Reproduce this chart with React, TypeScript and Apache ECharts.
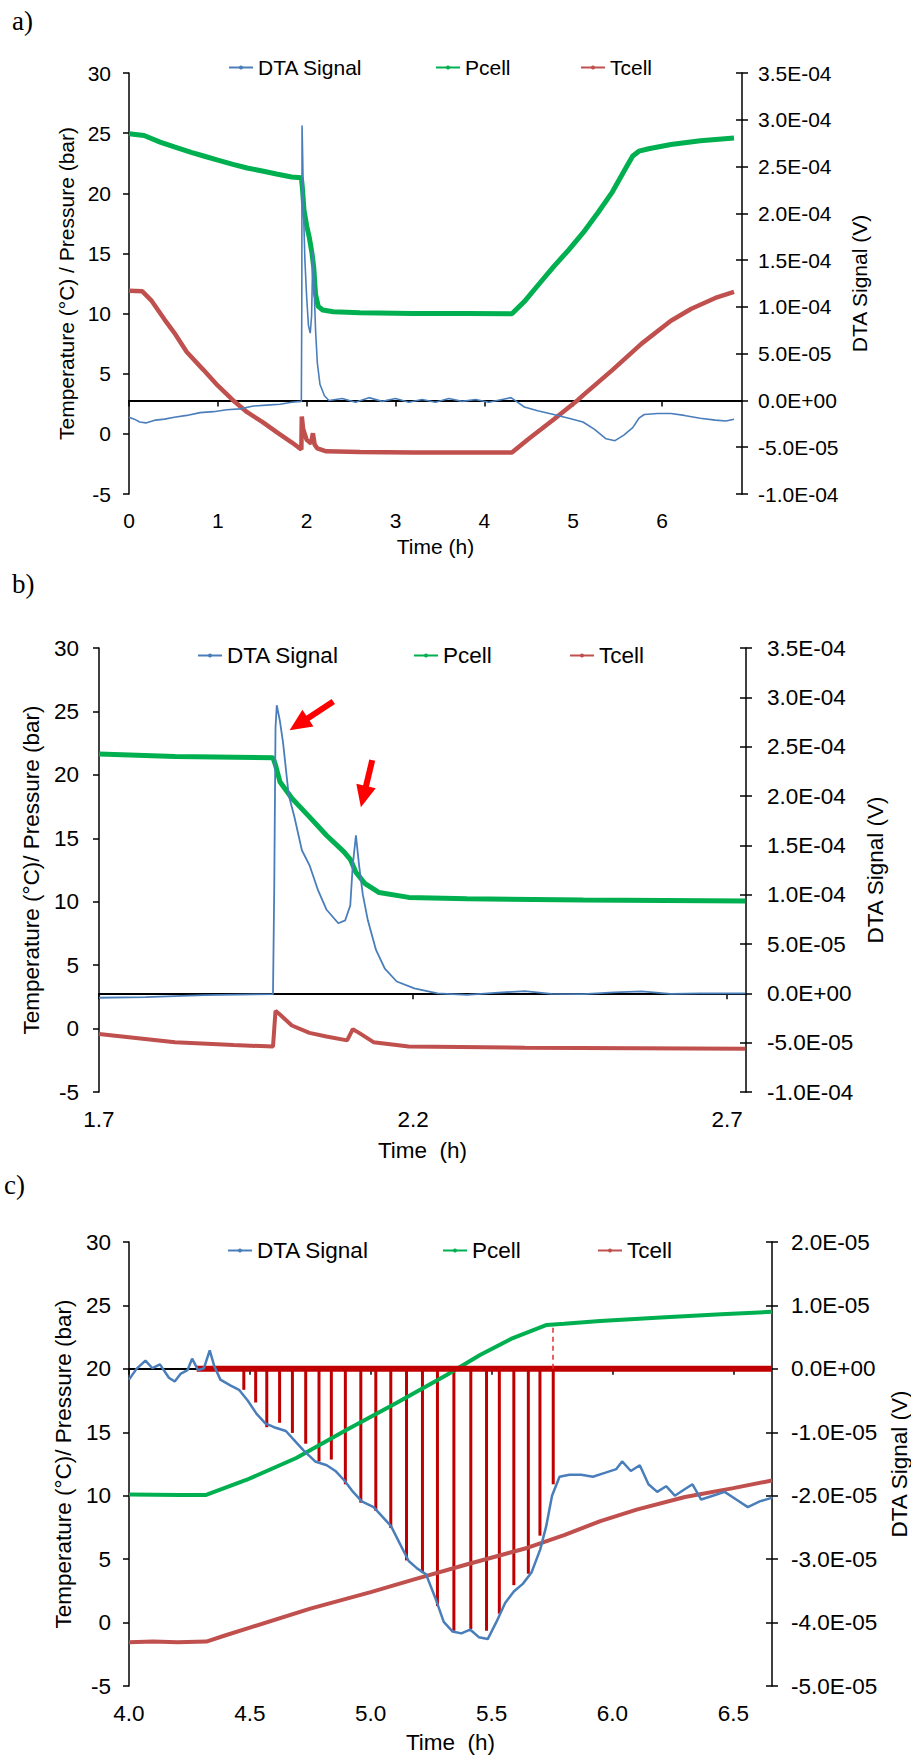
import React, { useEffect, useRef } from 'react';
import * as echarts from 'echarts';

const FONT = '"Liberation Sans", Arial, sans-serif';
const SERIF = '"Liberation Serif", "Times New Roman", serif';
const BLUE = '#4a7ebb';
const GREEN = '#00b050';
const RED = '#c0504d';
const DARKRED = '#c00000';
const ARROW = '#ff0000';

const legendNames = ['DTA Signal', 'Pcell', 'Tcell'];

// ---------- Panel a ----------
const xLabelsA = [0, 1, 2, 3, 4, 5, 6];
const dtaA: [number, number][] = [
  [0.0, -1.8e-5], [0.06, -2.0e-5], [0.12, -2.3e-5], [0.19, -2.4e-5], [0.3, -2.1e-5], [0.4, -2.0e-5],
  [0.51, -1.8e-5], [0.65, -1.6e-5], [0.8, -1.3e-5], [0.95, -1.2e-5], [1.1, -1.0e-5], [1.25, -0.9e-5],
  [1.4, -0.6e-5], [1.55, -0.5e-5], [1.7, -0.4e-5], [1.83, -0.2e-5], [1.94, -0.1e-5],
  [1.945, 1.0e-4], [1.948, 2.94e-4], [1.955, 2.6e-4], [1.965, 2.0e-4], [1.98, 1.5e-4], [2.0, 1.1e-4],
  [2.02, 0.8e-4], [2.04, 0.72e-4], [2.055, 0.9e-4], [2.07, 1.6e-4], [2.08, 1.3e-4], [2.1, 0.75e-4],
  [2.12, 0.4e-4], [2.15, 0.17e-4], [2.2, 0.05e-4], [2.25, 0.0], [2.4, 0.2e-5], [2.55, -0.2e-5],
  [2.7, 0.3e-5], [2.85, -0.1e-5], [3.0, 0.2e-5], [3.15, -0.2e-5], [3.3, 0.1e-5], [3.45, -0.2e-5],
  [3.6, 0.2e-5], [3.75, -0.1e-5], [3.9, 0.1e-5], [4.05, -0.2e-5], [4.2, 0.1e-5], [4.3, 0.3e-5],
  [4.36, -0.1e-5], [4.45, -0.7e-5], [4.6, -1.1e-5], [4.78, -1.5e-5], [4.95, -1.9e-5], [5.11, -2.3e-5],
  [5.24, -3.1e-5], [5.37, -4.1e-5], [5.47, -4.3e-5], [5.57, -3.7e-5], [5.67, -2.9e-5], [5.74, -1.9e-5],
  [5.8, -1.5e-5], [5.95, -1.4e-5], [6.1, -1.4e-5], [6.25, -1.6e-5], [6.43, -1.9e-5], [6.6, -2.1e-5],
  [6.72, -2.2e-5], [6.81, -2.0e-5],
];
const pcellA: [number, number][] = [
  [0.0, 24.95], [0.17, 24.8], [0.35, 24.25], [0.51, 23.85], [0.7, 23.4], [0.84, 23.1], [1.0, 22.75],
  [1.17, 22.4], [1.33, 22.1], [1.5, 21.85], [1.66, 21.6], [1.83, 21.35], [1.94, 21.3], [1.95, 20.6],
  [1.97, 18.6], [2.0, 17.3], [2.03, 16.3], [2.06, 15.0], [2.08, 13.8], [2.1, 11.6], [2.13, 10.6],
  [2.18, 10.3], [2.3, 10.15], [2.6, 10.07], [3.2, 10.0], [3.8, 10.0], [4.31, 9.98], [4.45, 11.0],
  [4.62, 12.5], [4.78, 13.9], [4.95, 15.3], [5.11, 16.7], [5.28, 18.4], [5.44, 20.1], [5.6, 22.2],
  [5.67, 23.1], [5.74, 23.5], [5.85, 23.7], [6.1, 24.05], [6.43, 24.37], [6.81, 24.6],
];
const tcellA: [number, number][] = [
  [0.0, 11.9], [0.15, 11.85], [0.25, 11.1], [0.4, 9.5], [0.51, 8.4], [0.65, 6.8], [0.84, 5.3],
  [1.0, 4.0], [1.17, 2.8], [1.33, 1.8], [1.5, 1.0], [1.67, 0.1], [1.83, -0.7], [1.94, -1.3],
  [1.945, 1.45], [1.96, 0.4], [2.0, -0.5], [2.05, -0.8], [2.07, 0.05], [2.09, -0.9], [2.12, -1.2],
  [2.22, -1.45], [2.6, -1.5], [3.2, -1.55], [3.8, -1.55], [4.31, -1.55], [4.5, -0.4], [4.78, 1.2],
  [5.05, 2.8], [5.11, 3.2], [5.44, 5.3], [5.77, 7.5], [6.1, 9.4], [6.33, 10.4], [6.6, 11.3], [6.81, 11.8],
];

// ---------- Panel b ----------
const xLabelsB = [1.7, 2.2, 2.7];
const dtaB: [number, number][] = [
  [1.7, -4.5e-6], [1.774, -3.8e-6], [1.867, -1.9e-6], [1.977, -0.8e-6], [1.979, 1.08e-4],
  [1.981, 2.69e-4], [1.983, 2.92e-4], [1.988, 2.76e-4], [1.993, 2.54e-4], [2.002, 2.01e-4],
  [2.011, 1.79e-4], [2.023, 1.45e-4], [2.035, 1.3e-4], [2.049, 1.04e-4], [2.062, 0.85e-4],
  [2.081, 0.71e-4], [2.092, 0.74e-4], [2.1, 0.89e-4], [2.104, 1.3e-4], [2.109, 1.6e-4],
  [2.114, 1.3e-4], [2.12, 1.0e-4], [2.128, 0.74e-4], [2.141, 0.44e-4], [2.155, 0.25e-4],
  [2.174, 0.12e-4], [2.202, 0.05e-4], [2.239, 0.0], [2.286, -1.5e-6], [2.33, 0.5e-6],
  [2.378, 2.2e-6], [2.42, -0.5e-6], [2.471, -0.8e-6], [2.52, 1.0e-6], [2.564, 1.9e-6],
  [2.61, -0.5e-6], [2.657, 0.0], [2.729, 0.0],
];
const pcellB: [number, number][] = [
  [1.7, 21.64], [1.821, 21.44], [1.977, 21.35], [1.981, 20.77], [1.988, 19.46], [2.007, 18.15],
  [2.035, 16.69], [2.062, 15.24], [2.09, 13.93], [2.1, 13.34], [2.109, 12.32], [2.123, 11.45],
  [2.146, 10.72], [2.193, 10.34], [2.286, 10.23], [2.471, 10.14], [2.729, 10.05],
];
const tcellB: [number, number][] = [
  [1.7, -0.43], [1.821, -1.07], [1.914, -1.3], [1.977, -1.42], [1.981, 1.4], [1.988, 1.11],
  [2.007, 0.24], [2.035, -0.34], [2.062, -0.63], [2.095, -0.93], [2.104, -0.05], [2.114, -0.34],
  [2.137, -1.07], [2.193, -1.42], [2.378, -1.51], [2.729, -1.6],
];
// arrows: [tail, head] in (time, left-axis value)
const arrowsB: [number, number][][] = [
  [[2.073, 25.79], [2.018, 23.99]],
  [[2.135, 21.16], [2.121, 18.28]],
];

// ---------- Panel c ----------
const xLabelsC = [4.0, 4.5, 5.0, 5.5, 6.0, 6.5];
const dtaC: [number, number][] = [
  [4.0, -1.7e-6], [4.031, 0], [4.068, 1.3e-6], [4.097, 1e-7], [4.128, 7e-7], [4.165, -1.4e-6],
  [4.189, -2.0e-6], [4.213, -8e-7], [4.242, -2e-7], [4.261, 1.6e-6], [4.286, -2e-7], [4.31, 1e-7],
  [4.334, 2.9e-6], [4.353, 4e-7], [4.378, -1.7e-6], [4.419, -2.6e-6], [4.455, -3.3e-6],
  [4.491, -5.0e-6], [4.528, -7.1e-6], [4.564, -8.6e-6], [4.6, -9.2e-6], [4.649, -9.8e-6],
  [4.685, -1.13e-5], [4.721, -1.28e-5], [4.77, -1.46e-5], [4.818, -1.52e-5], [4.854, -1.61e-5],
  [4.891, -1.76e-5], [4.927, -1.94e-5], [4.963, -2.09e-5], [5.012, -2.18e-5], [5.048, -2.33e-5],
  [5.084, -2.48e-5], [5.121, -2.76e-5], [5.157, -3.03e-5], [5.193, -3.15e-5], [5.229, -3.24e-5],
  [5.266, -3.6e-5], [5.302, -3.99e-5], [5.338, -4.14e-5], [5.375, -4.17e-5], [5.411, -4.11e-5],
  [5.447, -4.23e-5], [5.484, -4.26e-5], [5.52, -3.99e-5], [5.556, -3.69e-5], [5.592, -3.51e-5],
  [5.629, -3.39e-5], [5.665, -3.21e-5], [5.701, -2.85e-5], [5.726, -2.48e-5], [5.75, -2.0e-5],
  [5.781, -1.7e-5], [5.822, -1.67e-5], [5.871, -1.67e-5], [5.919, -1.7e-5], [5.968, -1.64e-5],
  [6.016, -1.58e-5], [6.04, -1.46e-5], [6.076, -1.61e-5], [6.113, -1.52e-5], [6.149, -1.82e-5],
  [6.185, -1.94e-5], [6.222, -1.85e-5], [6.258, -2.0e-5], [6.294, -1.91e-5], [6.331, -1.82e-5],
  [6.367, -2.06e-5], [6.415, -2.0e-5], [6.464, -1.94e-5], [6.512, -2.06e-5], [6.56, -2.18e-5],
  [6.609, -2.09e-5], [6.662, -2.03e-5],
];
const pcellC: [number, number][] = [
  [4.0, 10.1], [4.209, 10.06], [4.319, 10.06], [4.485, 11.24], [4.692, 12.97], [4.899, 15.18],
  [5.106, 17.31], [5.314, 19.52], [5.452, 21.09], [5.588, 22.43], [5.728, 23.46], [5.8, 23.55],
  [5.949, 23.77], [6.2, 24.05], [6.45, 24.3], [6.66, 24.5],
];
const tcellC: [number, number][] = [
  [4.0, -1.55], [4.1, -1.5], [4.2, -1.55], [4.32, -1.5], [4.4, -1.0], [4.5, -0.4], [4.75, 1.1],
  [5.0, 2.4], [5.18, 3.4], [5.4, 4.6], [5.65, 5.9], [5.8, 6.9], [5.95, 8.0], [6.1, 8.9],
  [6.3, 9.9], [6.5, 10.6], [6.66, 11.2],
];
const barsC: [number, number][] = [
  [4.475, -3.3e-6], [4.524, -5.3e-6], [4.57, -9.2e-6], [4.623, -8.5e-6], [4.676, -1.01e-5],
  [4.731, -1.18e-5], [4.786, -1.46e-5], [4.837, -1.43e-5], [4.895, -1.82e-5], [4.959, -2.11e-5],
  [5.021, -2.24e-5], [5.083, -2.51e-5], [5.148, -3.02e-5], [5.214, -3.22e-5], [5.276, -3.74e-5],
  [5.344, -4.13e-5], [5.414, -4.1e-5], [5.479, -4.13e-5], [5.532, -3.86e-5], [5.592, -3.41e-5],
  [5.652, -3.23e-5], [5.7, -2.63e-5], [5.755, -1.82e-5],
];
const zeroLineC: [number, number][] = [[4.28, 0], [6.66, 0]];
const dashC: [number, number][] = [[5.755, 20], [5.755, 23.45]];

function sci(v: number): string {
  if (Math.abs(v) < 1e-12) v = 0;
  const s = v.toExponential(1);
  const [m, e] = s.split('e');
  const sign = e[0] === '-' ? '-' : '+';
  const digits = e.replace(/^[+-]/, '').padStart(2, '0');
  return m + 'E' + sign + digits;
}

type Panel = {
  top: number; height: number; left: number; right: number;
  xMin: number; xMax: number; xLabels: number[]; xDec: number; xName: string; xNameGap: number;
  rMin: number; rMax: number; rInt: number; fs: number;
  leftName: string; leftGap: number; leftMargin: number; rightGap: number; rightMargin: number;
  legendTop: number; legendLeft: number[]; letter: string; letterX: number; letterY: number;
};

const panels: Panel[] = [
  {
    top: 73, height: 421, left: 129, right: 169, xMin: 0, xMax: 6.9, xLabels: xLabelsA, xDec: 0,
    xName: 'Time (h)', xNameGap: 42, rMin: -1e-4, rMax: 3.5e-4, rInt: 5e-5, fs: 21,
    leftName: 'Temperature (°C) / Pressure (bar)', leftGap: 46, leftMargin: 18, rightGap: 105, rightMargin: 16,
    legendTop: 57, legendLeft: [228, 435, 580], letter: 'a)', letterX: 12, letterY: 21,
  },
  {
    top: 648, height: 444, left: 99, right: 165, xMin: 1.7, xMax: 2.73, xLabels: xLabelsB, xDec: 1,
    xName: 'Time  (h)', xNameGap: 47, rMin: -1e-4, rMax: 3.5e-4, rInt: 5e-5, fs: 22.5,
    leftName: 'Temperature (°C)/ Pressure (bar)', leftGap: 50, leftMargin: 20, rightGap: 116, rightMargin: 21,
    legendTop: 644, legendLeft: [197, 413, 569], letter: 'b)', letterX: 12, letterY: 584,
  },
  {
    top: 1242, height: 444, left: 129, right: 139, xMin: 4, xMax: 6.66, xLabels: xLabelsC, xDec: 1,
    xName: 'Time  (h)', xNameGap: 45, rMin: -5e-5, rMax: 2e-5, rInt: 1e-5, fs: 22.5,
    leftName: 'Temperature (°C)/ Pressure (bar)', leftGap: 49, leftMargin: 18, rightGap: 110, rightMargin: 19,
    legendTop: 1239, legendLeft: [227, 442, 597], letter: 'c)', letterX: 4, letterY: 1185,
  },
];

const panelData = [
  { dta: dtaA, pcell: pcellA, tcell: tcellA, dtaW: 1.6, pW: 5, tW: 4.5 },
  { dta: dtaB, pcell: pcellB, tcell: tcellB, dtaW: 1.8, pW: 5, tW: 4 },
  { dta: dtaC, pcell: pcellC, tcell: tcellC, dtaW: 2.5, pW: 4, tW: 4 },
];

function buildOption(): any {
  const grid: any[] = [];
  const xAxis: any[] = [];
  const yAxis: any[] = [];
  const legend: any[] = [];
  const series: any[] = [];
  const graphic: any[] = [];
  const black = '#000';

  panels.forEach((p, i) => {
    grid.push({ left: p.left, right: p.right, top: p.top, height: p.height, containLabel: false, outerBoundsMode: 'none' });
    const txt = { fontFamily: FONT, fontSize: p.fs, color: black };
    // label x axis (bottom)
    xAxis.push({
      gridIndex: i, type: 'value', position: 'bottom', min: p.xMin, max: p.xMax,
      axisLine: { show: false, onZero: false }, axisTick: { show: false }, splitLine: { show: false },
      axisLabel: {
        ...txt, margin: 16, customValues: p.xLabels,
        formatter: (v: number) => v.toFixed(p.xDec),
      },
      name: p.xName, nameLocation: 'middle', nameGap: p.xNameGap, nameTextStyle: txt,
    });
    // zero-line x axis
    xAxis.push({
      gridIndex: i, type: 'value', position: 'top', min: p.xMin, max: p.xMax,
      axisLine: { show: true, onZero: true, onZeroAxisIndex: 3 * i + 1, lineStyle: { color: black, width: 2 } },
      axisTick: { show: true, inside: true, length: 6, customValues: p.xLabels, lineStyle: { color: black, width: 1.5 } },
      axisLabel: { show: false }, splitLine: { show: false },
    });
    yAxis.push({
      gridIndex: i, type: 'value', position: 'left', min: -5, max: 30, interval: 5,
      axisLine: { show: true, onZero: false, lineStyle: { color: black, width: 1.5 } },
      axisTick: { show: true, length: 6, lineStyle: { color: black, width: 1.5 } },
      axisLabel: { ...txt, margin: p.leftMargin }, splitLine: { show: false },
      name: p.leftName, nameLocation: 'middle', nameGap: p.leftGap, nameRotate: 90, nameTextStyle: txt,
    });
    yAxis.push({
      gridIndex: i, type: 'value', position: 'right', min: p.rMin, max: p.rMax, interval: p.rInt,
      axisLine: { show: true, onZero: false, lineStyle: { color: black, width: 1.5 } },
      axisTick: { show: true, length: 6, lineStyle: { color: black, width: 1.5 } },
      axisLabel: { ...txt, margin: p.rightMargin, formatter: (v: number) => sci(v) }, splitLine: { show: false },
      name: 'DTA Signal (V)', nameLocation: 'middle', nameGap: p.rightGap, nameRotate: 90, nameTextStyle: txt,
    });
    yAxis.push({
      gridIndex: i, type: 'value', position: 'right', min: p.rMin, max: p.rMax, interval: p.rInt,
      axisLine: { show: false, onZero: false },
      axisTick: { show: true, inside: true, length: 6, lineStyle: { color: black, width: 1.5 } },
      axisLabel: { show: false }, splitLine: { show: false },
    });
    legendNames.forEach((n, k) => {
      legend.push({
        data: [n], left: p.legendLeft[k], top: p.legendTop, itemWidth: 24, itemHeight: 5, itemGap: 0,
        selectedMode: false, textStyle: txt, lineStyle: { width: 2 }, itemStyle: { borderWidth: 0 },
        padding: 0,
      });
    });
    graphic.push({
      type: 'text', x: p.letterX, y: p.letterY,
      style: { text: p.letter, fontFamily: SERIF, fontSize: 27, fill: black, verticalAlign: 'middle' },
    });

    const d = panelData[i];
    const xi = 2 * i;
    const common = { type: 'line', xAxisIndex: xi, showSymbol: false, symbol: 'circle', symbolSize: 4, silent: true, animation: false };
    if (i === 2) {
      series.push({
        type: 'bar', name: 'events', data: barsC, xAxisIndex: xi, yAxisIndex: 3 * i + 1, barWidth: 3,
        itemStyle: { color: DARKRED }, silent: true, animation: false,
      });
    }
    series.push({
      ...common, name: 'Tcell', data: d.tcell, yAxisIndex: 3 * i,
      itemStyle: { color: RED }, lineStyle: { color: RED, width: d.tW },
    });
    const pSeries: any = {
      ...common, name: 'Pcell', data: d.pcell, yAxisIndex: 3 * i,
      itemStyle: { color: GREEN }, lineStyle: { color: GREEN, width: d.pW },
    };
    if (i === 1) {
      pSeries.markLine = {
        silent: true, animation: false, symbol: ['none', 'triangle'], symbolSize: [20, 22],
        label: { show: false }, lineStyle: { color: ARROW, width: 6, type: 'solid' },
        itemStyle: { color: ARROW },
        data: arrowsB.map((a) => [{ coord: a[0] }, { coord: a[1] }]),
      };
    }
    if (i === 2) {
      pSeries.markLine = {
        silent: true, animation: false, symbol: ['none', 'none'], label: { show: false },
        lineStyle: { color: '#e03030', width: 1.5, type: [5, 4] },
        data: [[{ coord: dashC[0] }, { coord: dashC[1] }]],
      };
    }
    series.push(pSeries);
    if (i === 2) {
      series.push({
        type: 'line', name: 'zeroline', data: zeroLineC, xAxisIndex: xi, yAxisIndex: 3 * i + 1,
        symbol: 'none', lineStyle: { color: DARKRED, width: 6 }, itemStyle: { color: DARKRED }, silent: true, animation: false,
      });
    }
    series.push({
      ...common, name: 'DTA Signal', data: d.dta, yAxisIndex: 3 * i + 1,
      itemStyle: { color: BLUE }, lineStyle: { color: BLUE, width: d.dtaW },
    });
  });

  return {
    animation: false,
    backgroundColor: '#ffffff',
    textStyle: { fontFamily: FONT },
    grid, xAxis, yAxis, legend, series, graphic,
  };
}

export default function App() {
  const ref = useRef<HTMLDivElement>(null);
  useEffect(() => {
    const chart = echarts.init(ref.current!, null, { renderer: 'svg' });
    chart.setOption(buildOption());
    return () => chart.dispose();
  }, []);
  return (
    <div
      ref={ref}
      style={{ position: 'absolute', left: 0, top: 0, width: 911, height: 1758, background: '#fff' }}
    />
  );
}
